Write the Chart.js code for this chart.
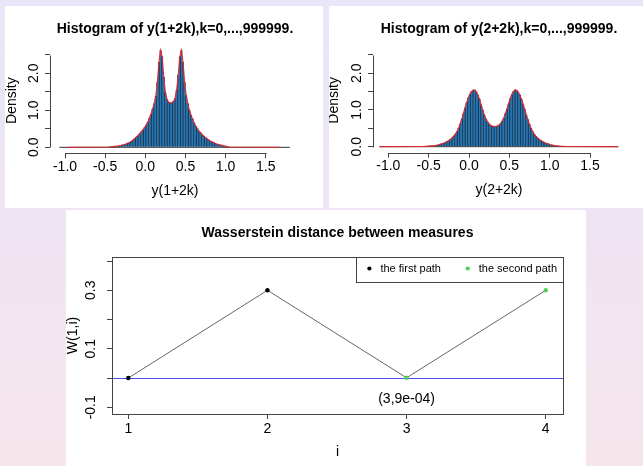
<!DOCTYPE html>
<html>
<head>
<meta charset="utf-8">
<script src="https://cdn.jsdelivr.net/npm/chart.js@4.4.1/dist/chart.umd.min.js"></script>
<style>
  html, body { margin: 0; padding: 0; }
  body { width: 643px; height: 466px; position: relative; overflow: hidden;
         background: linear-gradient(180deg, #e8e6f8 0%, #efe4f3 45%, #f6e6ec 100%); }
  .panel { position: absolute; background: #fff; }
  .panel canvas { display: block; }
  #p1 { left: 5px; top: 6px; width: 318px; height: 202px; }
  #p2 { left: 329px; top: 6px; width: 314px; height: 202px; }
  #p3 { left: 66px; top: 210px; width: 520px; height: 256px; }
</style>
</head>
<body>
<div class="panel" id="p1"><canvas id="c1" width="318" height="202"></canvas></div>
<div class="panel" id="p2"><canvas id="c2" width="314" height="202"></canvas></div>
<div class="panel" id="p3"><canvas id="c3" width="520" height="256"></canvas></div>
<script>
// ---- histogram of y(1+2k): first bin centre, bin width, densities
const hist1Start = -0.45, hist1Step = 0.02;
const hist1 = [
  0.01, 0.015, 0.02, 0.025, 0.03, 0.035, 0.04, 0.05, 0.06, 0.07,
  0.08, 0.10, 0.12, 0.14, 0.17, 0.20, 0.24, 0.28, 0.32, 0.37,
  0.42, 0.47, 0.53, 0.60, 0.68, 0.78, 0.90, 1.03, 1.18, 1.38,
  1.75, 2.30, 2.62, 2.45, 1.90, 1.48, 1.30, 1.22, 1.20, 1.20,
  1.24, 1.32, 1.55, 1.95, 2.45, 2.62, 2.30, 1.75, 1.40, 1.18,
  1.00, 0.87, 0.76, 0.66, 0.57, 0.50, 0.44, 0.39, 0.34, 0.30,
  0.26, 0.23, 0.20, 0.17, 0.15, 0.13, 0.11, 0.09, 0.08, 0.065,
  0.055, 0.045, 0.035, 0.025, 0.015, 0.01
];
const hist1Breaks = [-1.07, 1.80];   // empty bins show as a flat line
const curve1Ends = [-0.96, 1.67];    // where the red density line runs out

// ---- histogram of y(2+2k)
const hist2Start = -0.55, hist2Step = 0.02;
const hist2 = [
  0.010, 0.012, 0.015, 0.018, 0.022, 0.026, 0.030, 0.036, 0.045, 0.055,
  0.070, 0.085, 0.10, 0.12, 0.145, 0.17, 0.20, 0.24, 0.29, 0.34,
  0.41, 0.50, 0.62, 0.76, 0.90, 1.06, 1.20, 1.33, 1.43, 1.50,
  1.54, 1.55, 1.50, 1.41, 1.30, 1.15, 1.00, 0.87, 0.76, 0.68,
  0.62, 0.58, 0.56, 0.55, 0.55, 0.56, 0.59, 0.63, 0.70, 0.78,
  0.90, 1.03, 1.17, 1.31, 1.42, 1.50, 1.55, 1.54, 1.49, 1.41,
  1.30, 1.17, 1.02, 0.87, 0.74, 0.61, 0.50, 0.41, 0.34, 0.28,
  0.24, 0.20, 0.17, 0.145, 0.12, 0.10, 0.085, 0.07, 0.055, 0.045,
  0.036, 0.030, 0.025, 0.020, 0.016, 0.013, 0.010, 0.008
];
const hist2Breaks = [-1.11, 1.85];
const curve2Ends = [-1.11, 1.85];

const histYLabels = ['0.0', '1.0', '2.0'];

// ---- Wasserstein distance W(1,i)
const steps = [1, 2, 3, 4];
const wDist = [0, 0.3, 0.0009, 0.3];
const firstPathI = [1, 2];
const firstPathW = [0, 0.3];
const secondPathI = [3, 4];
const secondPathW = [0.0009, 0.3];
const wYLabels = ['-0.1', '0.1', '0.3'];
const noteText = '(3,9e-04)';

Chart.defaults.font.family = '"Liberation Sans", Arial, Helvetica, sans-serif';
Chart.defaults.font.size = 14;
Chart.defaults.color = '#000';

const axisColor = '#444';

function crisp(v) { return Math.round(v) + 0.5; }
function fmt1(v) { return (Math.abs(v) < 1e-9 ? 0 : v).toFixed(1); }

// R style axes: a line only from first to last tick, or a full box
const rAxes = {
  id: 'rAxes',
  afterDraw(chart, args, opts) {
    const ctx = chart.ctx, a = chart.chartArea;
    ctx.save();
    ctx.strokeStyle = axisColor;
    ctx.lineWidth = 1;
    if (opts.box) {
      ctx.strokeRect(crisp(a.left), crisp(a.top), Math.round(a.right) - Math.round(a.left), Math.round(a.bottom) - Math.round(a.top));
    } else {
      const x = chart.scales.x, y = chart.scales.y;
      const xt = x.ticks, yt = y.ticks;
      ctx.beginPath();
      ctx.moveTo(crisp(x.getPixelForValue(xt[0].value)), crisp(a.bottom));
      ctx.lineTo(crisp(x.getPixelForValue(xt[xt.length - 1].value)), crisp(a.bottom));
      ctx.moveTo(crisp(a.left), crisp(y.getPixelForValue(yt[0].value)));
      ctx.lineTo(crisp(a.left), crisp(y.getPixelForValue(yt[yt.length - 1].value)));
      ctx.stroke();
    }
    ctx.restore();
  }
};

function binPoints(start, step, values) {
  return values.map((v, i) => ({ x: +(start + i * step).toFixed(3), y: v }));
}

function histogram(id, o) {
  const bars = binPoints(o.start, o.step, o.values);
  return new Chart(document.getElementById(id), {
    type: 'bar',
    data: {
      datasets: [
        { type: 'line', data: o.breaks.map(x => ({ x: x, y: 0 })), borderColor: '#333', borderWidth: 1, pointRadius: 0, order: 3 },
        { data: bars, backgroundColor: '#1f7cc4', borderColor: 'rgba(8,22,38,0.9)', borderWidth: 0.6,
          barPercentage: 1, categoryPercentage: 1, order: 2 },
        { type: 'line', data: [{ x: o.curve[0], y: 0 }].concat(bars, [{ x: o.curve[1], y: 0 }]),
          borderColor: '#e8252d', borderWidth: 1.1, pointRadius: 0, tension: 0, order: 1 }
      ]
    },
    options: {
      responsive: false, animation: false, devicePixelRatio: 1, events: [],
      layout: { padding: { left: 0, top: 0, right: o.padRight, bottom: o.padBottom } },
      plugins: {
        legend: { display: false },
        tooltip: { enabled: false },
        title: { display: true, text: o.title, fullSize: false, color: '#000',
                 font: { size: 14, weight: 'bold' }, padding: { top: 14.6, bottom: 10.6 } },
        rAxes: { box: false }
      },
      scales: {
        x: {
          type: 'linear', min: o.xMin, max: o.xMax, offset: false,
          afterFit: s => { s.height = 47; },
          border: { display: false },
          grid: { drawOnChartArea: false, offset: false, tickLength: 5, color: axisColor },
          ticks: { stepSize: 0.5, includeBounds: false, autoSkip: false, maxRotation: 0, padding: 0,
                   color: '#000', callback: v => fmt1(v) },
          title: { display: true, text: o.xTitle, color: '#000', padding: { top: 0, bottom: 1 } }
        },
        y: {
          min: o.yMin, max: o.yMax,
          afterFit: s => { s.width = o.yWidth; },
          border: { display: false },
          grid: { drawOnChartArea: false, tickLength: 5, color: axisColor },
          ticks: { stepSize: 0.5, includeBounds: false, autoSkip: false, minRotation: 90, maxRotation: 90,
                   crossAlign: 'center', padding: 1, color: '#000',
                   callback: v => histYLabels.includes(fmt1(v)) ? fmt1(v) : '' },
          title: { display: true, text: 'Density', color: '#000', padding: { top: o.yTitlePad, bottom: 0 } }
        }
      }
    },
    plugins: [rAxes]
  });
}

histogram('c1', {
  title: 'Histogram of y(1+2k),k=0,...,999999.', xTitle: 'y(1+2k)',
  start: hist1Start, step: hist1Step, values: hist1, breaks: hist1Breaks, curve: curve1Ends,
  xMin: -1.1868, xMax: 1.9265, yMin: -0.162, yMax: 2.684,
  yWidth: 45, yTitlePad: -1.4, padRight: 23, padBottom: 7.7
});

histogram('c2', {
  title: 'Histogram of y(2+2k),k=0,...,999999.', xTitle: 'y(2+2k)',
  start: hist2Start, step: hist2Step, values: hist2, breaks: hist2Breaks, curve: curve2Ends,
  xMin: -1.1896, xMax: 1.9331, yMin: -0.1635, yMax: 2.689,
  yWidth: 44, yTitlePad: -2.9, padRight: 18, padBottom: 8.3
});

// horizontal reference line (abline h = 0) and the text under point 3
const refLine = {
  id: 'refLine',
  beforeDatasetsDraw(chart, args, o) {
    const ctx = chart.ctx, a = chart.chartArea;
    const y = crisp(chart.scales.y.getPixelForValue(o.y));
    ctx.save();
    ctx.strokeStyle = o.color;
    ctx.lineWidth = 1;
    ctx.beginPath();
    ctx.moveTo(a.left, y);
    ctx.lineTo(a.right, y);
    ctx.stroke();
    ctx.restore();
  },
  afterDatasetsDraw(chart, args, o) {
    const ctx = chart.ctx;
    const x = chart.scales.x.getPixelForValue(o.noteX);
    const y = chart.scales.y.getPixelForValue(o.noteY);
    ctx.save();
    ctx.font = '14px "Liberation Sans", Arial, sans-serif';
    ctx.fillStyle = '#000';
    ctx.textAlign = 'center';
    ctx.textBaseline = 'middle';
    ctx.fillText(o.note, x, y + o.noteDy);
    ctx.restore();
  }
};

// legend sits inside the plot box, top right, with a frame
const legendInside = {
  id: 'legendInside',
  afterLayout(chart) {
    const lg = chart.legend;
    const h = lg.height;
    lg.top += h;
    lg.bottom += h;
  },
  afterDraw(chart) {
    const lg = chart.legend, a = chart.chartArea, ctx = chart.ctx;
    const hb = lg.legendHitBoxes[0];
    const left = crisp(hb.left - 7.5), top = crisp(lg.top);
    ctx.save();
    ctx.strokeStyle = axisColor;
    ctx.lineWidth = 1;
    ctx.strokeRect(left, top, crisp(a.right) - left, 25);
    ctx.restore();
  }
};

new Chart(document.getElementById('c3'), {
  type: 'line',
  data: {
    datasets: [
      { label: 'path', data: steps.map((s, i) => ({ x: s, y: wDist[i] })), borderColor: '#666', borderWidth: 1,
        pointRadius: 0, tension: 0, order: 1 },
      { label: 'the first path     ', inLegend: true, data: firstPathI.map((s, i) => ({ x: s, y: firstPathW[i] })),
        showLine: false, pointRadius: 2.2, pointBorderWidth: 0, pointBackgroundColor: '#000', backgroundColor: '#000', order: 0 },
      { label: 'the second path', inLegend: true, data: secondPathI.map((s, i) => ({ x: s, y: secondPathW[i] })),
        showLine: false, pointRadius: 2.2, pointBorderWidth: 0, pointBackgroundColor: '#55cc55', backgroundColor: '#55cc55', order: 0 }
    ]
  },
  options: {
    responsive: false, animation: false, devicePixelRatio: 1, events: [],
    layout: { padding: { left: 0, top: 0, right: 23, bottom: 4 } },
    plugins: {
      tooltip: { enabled: false },
      title: { display: true, text: 'Wasserstein distance between measures', fullSize: false, color: '#000',
               font: { size: 14, weight: 'bold' }, padding: { top: 14.6, bottom: -11.4 } },
      legend: {
        display: true, position: 'top', align: 'end',
        labels: { usePointStyle: true, pointStyle: 'circle', boxWidth: 11, boxHeight: 3, padding: 6,
                  color: '#000', font: { size: 11 },
                  filter: (item, data) => !!data.datasets[item.datasetIndex].inLegend }
      },
      rAxes: { box: true },
      refLine: { y: 0, color: '#5050ee', note: noteText, noteX: steps[2], noteY: wDist[2], noteDy: 21 }
    },
    scales: {
      x: {
        type: 'linear', min: 0.883, max: 4.124,
        afterFit: s => { s.height = 48; },
        border: { display: false },
        grid: { drawOnChartArea: false, tickLength: 5, color: axisColor },
        ticks: { stepSize: 1, includeBounds: false, autoSkip: false, maxRotation: 0, padding: 1.6,
                 color: '#000', callback: v => String(v) },
        title: { display: true, text: 'i', color: '#000', padding: { top: 0, bottom: 1.9 } }
      },
      y: {
        min: -0.1229, max: 0.4138,
        afterFit: s => { s.width = 46; },
        border: { display: false },
        grid: { drawOnChartArea: false, tickLength: 5, color: axisColor },
        ticks: { stepSize: 0.1, includeBounds: false, autoSkip: false, minRotation: 90, maxRotation: 90,
                 crossAlign: 'center', padding: 4, color: '#000',
                 callback: v => wYLabels.includes(fmt1(v)) ? fmt1(v) : '' },
        title: { display: true, text: 'W(1,i)', color: '#000', padding: { top: -1.4, bottom: 0 } }
      }
    }
  },
  plugins: [rAxes, refLine, legendInside]
});
</script>
</body>
</html>
